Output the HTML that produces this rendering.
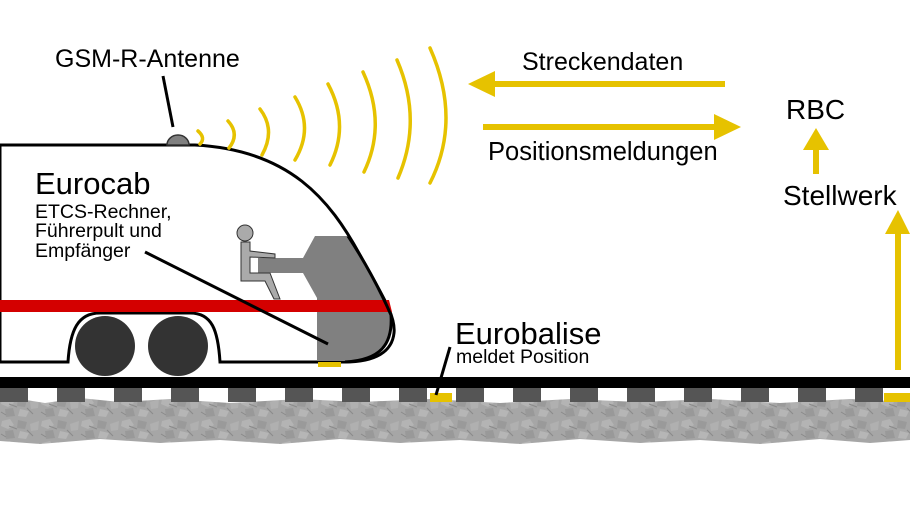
<!DOCTYPE html>
<html><head><meta charset="utf-8"><style>
html,body{margin:0;padding:0;background:#fff;}
svg{display:block;}
text{font-family:"Liberation Sans",sans-serif;fill:#000;}
</style></head><body>
<svg width="910" height="512" viewBox="0 0 910 512" xmlns="http://www.w3.org/2000/svg">
<defs>
<pattern id="bal" width="40" height="22" patternUnits="userSpaceOnUse">
<rect width="40" height="22" fill="#a6a6a6"/>
<path d="M2 3 L10 1 L14 7 L8 11 L1 8Z" fill="#b4b4b4"/>
<path d="M18 2 L27 4 L25 11 L17 10Z" fill="#9a9a9a"/>
<path d="M30 6 L39 3 L38 12 L31 13Z" fill="#b0b0b0"/>
<path d="M5 13 L13 12 L15 20 L6 21Z" fill="#999"/>
<path d="M20 13 L29 15 L26 21 L18 20Z" fill="#b6b6b6"/>
<path d="M9 8 L17 11 M27 12 L33 18 M1 16 L6 19" stroke="#8a8a8a" stroke-width="1"/>
</pattern>
</defs>

<path d="M0 402 L20 399 L45 403 L80 398 L120 402 L170 399 L230 403 L300 399 L360 402 L430 399 L500 403 L570 399 L640 402 L710 399 L780 403 L850 399 L910 402 L910 440 L870 443 L820 439 L760 444 L700 440 L640 443 L580 439 L520 444 L460 440 L400 443 L340 439 L280 444 L220 440 L160 443 L100 439 L40 444 L0 441Z" fill="url(#bal)"/>
<g fill="#555">
<rect x="0" y="386" width="28" height="16"/><rect x="57" y="386" width="28" height="16"/><rect x="114" y="386" width="28" height="16"/><rect x="171" y="386" width="28" height="16"/><rect x="228" y="386" width="28" height="16"/><rect x="285" y="386" width="28" height="16"/><rect x="342" y="386" width="28" height="16"/><rect x="399" y="386" width="28" height="16"/><rect x="456" y="386" width="28" height="16"/><rect x="513" y="386" width="28" height="16"/><rect x="570" y="386" width="28" height="16"/><rect x="627" y="386" width="28" height="16"/><rect x="684" y="386" width="28" height="16"/><rect x="741" y="386" width="28" height="16"/><rect x="798" y="386" width="28" height="16"/><rect x="855" y="386" width="28" height="16"/>
</g>
<rect x="430" y="393" width="22" height="9" fill="#e6c200"/>
<rect x="884" y="393" width="26" height="9" fill="#e6c200"/>
<rect x="0" y="377" width="910" height="11" fill="#000"/>

<path d="M0 145 L195 145 C290 150 330 200 360 255 C380 292 396 315 394 333 C392 352 375 362 345 362 L220 362 C218 330 212 313 190 313 L100 313 C78 313 70 330 68 362 L0 362 Z" fill="#fff" stroke="#000" stroke-width="3"/>
<path d="M0 300 L386 300 L390 312 L0 312Z" fill="#d40000"/>
<path d="M315 236 L348 236 C365 262 380 290 391 315 C393 345 380 360 345 361 L317 361 L317 298 L303 273 L258 273 L258 258 L303 258 Z" fill="#808080"/>
<path d="M317 300 L389 300 L392 312 L317 312Z" fill="#d40000"/>
<path d="M348 236 C365 262 380 290 391 315 C393 345 380 360 345 362" fill="none" stroke="#000" stroke-width="3"/>
<rect x="318" y="362" width="23" height="5" fill="#e6c200"/>
<g fill="#aaa" stroke="#333" stroke-width="1">
<circle cx="245" cy="233" r="8"/>
<path d="M241 242 L250 242 L250 251 L275 254 L275 258 L250 257 L250 273 L270 273 L280 299 L274 299 L265 281 L241 281 Z"/>
</g>
<circle cx="105" cy="346" r="30" fill="#333"/>
<circle cx="178" cy="346" r="30" fill="#333"/>
<path d="M167 145 A11 10 0 0 1 189 145Z" fill="#808080" stroke="#333" stroke-width="1.5"/>
<line x1="163" y1="76" x2="173" y2="127" stroke="#000" stroke-width="3"/>
<line x1="145" y1="252" x2="328" y2="344" stroke="#000" stroke-width="3"/>
<line x1="450" y1="347" x2="436" y2="395" stroke="#000" stroke-width="3"/>

<g fill="none" stroke="#e6c200" stroke-width="3.5" stroke-linecap="round">
<path d="M198 131 Q206 138 200 144"/>
<path d="M228 121 Q240 134 229 148"/>
<path d="M260 109 Q276 130 262 155"/>
<path d="M295 97 Q314 128 295 160"/>
<path d="M328 84 Q350 125 330 165"/>
<path d="M363 72 Q387 124 364 172"/>
<path d="M397 60 Q423 120 398 178"/>
<path d="M430 48 Q462 120 430 183"/>
</g>

<g fill="#e6c200" stroke="none">
<rect x="490" y="81" width="235" height="6"/>
<polygon points="468,84 495,71 495,97"/>
<rect x="483" y="124" width="235" height="6"/>
<polygon points="741,127 714,114 714,140"/>
<rect x="813" y="148" width="6" height="26"/>
<polygon points="816,128 803,150 829,150"/>
<rect x="895" y="232" width="6" height="138"/>
<polygon points="898,210 885,234 910,234"/>
</g>

<text x="55" y="67" font-size="25">GSM-R-Antenne</text>
<text x="522" y="70" font-size="25">Streckendaten</text>
<text x="488" y="160" font-size="25.5">Positionsmeldungen</text>
<text x="786" y="119" font-size="28">RBC</text>
<text x="783" y="205" font-size="28">Stellwerk</text>
<text x="35" y="194" font-size="31">Eurocab</text>
<text x="35" y="218" font-size="19.5">ETCS-Rechner,</text>
<text x="35" y="237" font-size="19.5">Führerpult und</text>
<text x="35" y="257" font-size="19.5">Empfänger</text>
<text x="455" y="344" font-size="31">Eurobalise</text>
<text x="456" y="363" font-size="19.5">meldet Position</text>
</svg>
</body></html>
